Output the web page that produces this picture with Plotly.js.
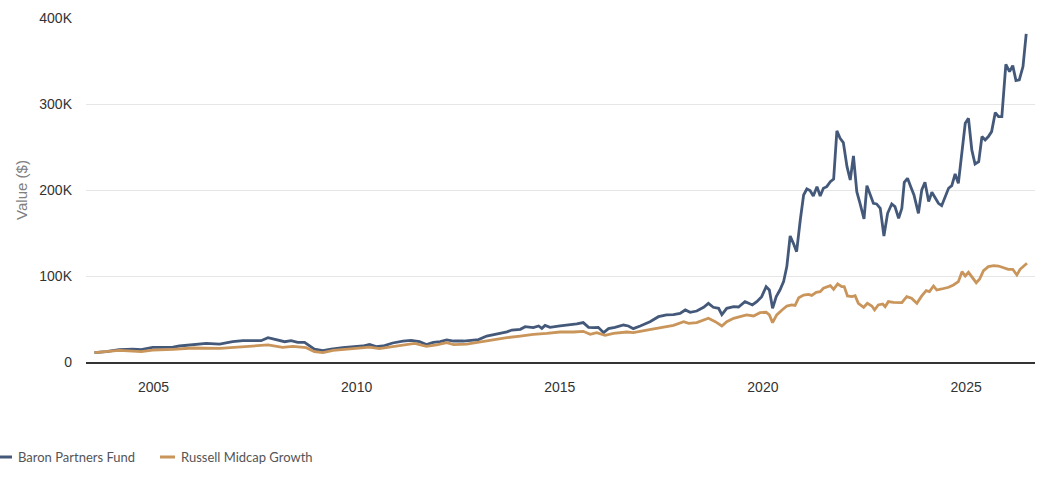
<!DOCTYPE html>
<html>
<head>
<meta charset="utf-8">
<script src="https://cdn.plot.ly/plotly-3.0.1.min.js"></script>
<style>html,body{margin:0;padding:0;background:#fff;}#chart{width:1043px;height:483px;}</style>
</head>
<body>
<div id="chart"></div>
<script>
// Series names
const fundName = "Baron Partners Fund";
const indexName = "Russell Midcap Growth";

// Baron Partners Fund: time (decimal years) and value (thousands of $)
const fundYears = [2003.55,2003.84,2004.16,2004.49,2004.70,2004.98,2005.23,2005.48,2005.64,2005.97,2006.30,2006.63,2006.95,2007.20,2007.45,2007.65,2007.82,2008.02,2008.23,2008.39,2008.55,2008.72,2008.84,2008.96,2009.17,2009.37,2009.66,2009.91,2010.15,2010.32,2010.48,2010.65,2010.89,2011.14,2011.34,2011.55,2011.72,2011.89,2012.06,2012.22,2012.39,2012.63,2012.88,2013.00,2013.20,2013.41,2013.57,2013.70,2013.82,2014.03,2014.15,2014.35,2014.48,2014.56,2014.64,2014.76,2015.01,2015.17,2015.42,2015.58,2015.71,2015.83,2015.95,2016.08,2016.20,2016.36,2016.57,2016.69,2016.81,2016.98,2017.22,2017.43,2017.63,2017.80,2017.96,2018.09,2018.21,2018.37,2018.54,2018.66,2018.78,2018.91,2018.99,2019.11,2019.28,2019.40,2019.56,2019.65,2019.74,2019.85,2019.97,2020.08,2020.16,2020.24,2020.33,2020.42,2020.51,2020.59,2020.67,2020.75,2020.83,2020.92,2021.00,2021.08,2021.16,2021.24,2021.33,2021.41,2021.49,2021.57,2021.66,2021.74,2021.82,2021.90,2021.98,2022.07,2022.15,2022.23,2022.31,2022.39,2022.49,2022.56,2022.64,2022.72,2022.80,2022.89,2022.98,2023.07,2023.17,2023.25,2023.34,2023.42,2023.48,2023.56,2023.64,2023.72,2023.83,2023.91,2023.99,2024.08,2024.16,2024.24,2024.32,2024.40,2024.49,2024.57,2024.65,2024.73,2024.81,2024.90,2024.98,2025.06,2025.14,2025.22,2025.31,2025.39,2025.47,2025.55,2025.63,2025.72,2025.80,2025.88,2025.98,2026.07,2026.15,2026.23,2026.31,2026.40,2026.48];
const fundValues = [10.9,12.0,14.3,15.0,14.3,17.0,17.0,17.2,18.6,20.1,21.7,20.9,23.6,24.8,25.2,24.8,28.3,26.0,23.6,24.8,22.9,22.9,19.0,15.0,13.2,15.0,16.7,17.4,18.6,20.5,17.8,18.6,22.1,24.4,25.2,23.6,20.3,22.9,23.6,25.6,24.4,24.4,25.6,26.0,30.2,32.2,33.3,35.0,37.2,38.0,41.1,39.9,41.9,39.1,42.6,40.3,41.9,42.6,44.2,45.8,40.3,39.9,40.3,34.1,38.8,40.3,43.0,41.9,38.8,41.9,46.9,52.7,54.7,55.0,56.6,60.5,57.8,59.3,63.6,68.2,63.6,62.4,55.0,62.4,64.4,64.0,70.2,68.2,66.3,70.2,76.0,87.6,83.7,62.4,76.0,83.7,93.4,110.9,146.5,138.0,128.3,165.1,194.2,201.2,199.3,193.1,203.9,193.1,202.0,203.9,209.7,212.8,268.7,260.1,255.1,227.2,211.7,239.6,198.1,184.5,166.3,205.1,194.2,184.5,183.8,178.7,146.5,172.9,183.8,180.6,167.1,178.7,208.9,213.6,203.9,194.2,172.9,200.0,208.9,186.5,197.3,190.3,184.5,181.8,192.3,202.0,205.1,218.6,207.8,242.7,277.6,283.4,246.6,230.3,233.0,262.1,258.2,262.1,267.9,290.0,285.3,285.3,346.2,337.7,344.6,327.2,328.0,343.5,381.5];

// Russell Midcap Growth: time (decimal years) and value (thousands of $)
const indexYears = [2003.55,2004.16,2004.70,2004.98,2005.48,2005.97,2006.63,2006.95,2007.45,2007.82,2008.18,2008.43,2008.76,2008.96,2009.17,2009.42,2009.91,2010.32,2010.56,2010.89,2011.22,2011.43,2011.72,2011.97,2012.22,2012.39,2012.71,2013.00,2013.37,2013.70,2014.03,2014.35,2014.68,2015.01,2015.34,2015.58,2015.75,2015.91,2016.12,2016.32,2016.65,2016.81,2017.14,2017.47,2017.80,2018.05,2018.17,2018.37,2018.66,2018.83,2018.99,2019.11,2019.28,2019.44,2019.60,2019.77,2019.93,2020.08,2020.16,2020.24,2020.34,2020.47,2020.59,2020.71,2020.79,2020.88,2021.00,2021.12,2021.20,2021.31,2021.41,2021.49,2021.57,2021.66,2021.74,2021.84,2021.94,2022.00,2022.08,2022.19,2022.27,2022.35,2022.48,2022.57,2022.68,2022.75,2022.84,2022.95,2023.01,2023.09,2023.21,2023.34,2023.42,2023.54,2023.66,2023.79,2023.91,2024.02,2024.10,2024.20,2024.28,2024.40,2024.57,2024.69,2024.81,2024.90,2024.98,2025.06,2025.14,2025.25,2025.33,2025.43,2025.55,2025.68,2025.80,2025.92,2026.04,2026.15,2026.25,2026.33,2026.41,2026.50];
const indexValues = [10.9,13.6,12.0,13.9,14.7,16.3,15.9,17.0,18.6,19.8,17.0,18.2,16.7,12.0,10.9,13.6,15.5,17.4,15.5,17.8,20.9,21.7,18.2,19.8,22.5,20.2,20.9,23.3,26.4,28.3,30.2,32.2,33.3,34.9,34.9,35.7,32.2,34.1,31.0,33.3,34.9,34.1,37.2,39.5,42.6,46.9,45.0,45.8,50.8,46.9,41.9,46.9,50.8,52.7,54.7,53.5,57.4,57.8,54.7,45.8,54.7,60.5,65.1,66.3,65.7,74.8,77.9,78.7,77.5,81.1,81.8,85.7,86.9,88.8,84.5,90.7,87.6,87.6,76.8,76.0,77.1,68.2,63.6,68.2,65.1,60.5,66.3,67.5,64.4,70.2,69.4,69.0,69.0,76.0,74.1,68.2,76.8,82.9,81.8,88.4,83.7,84.9,86.9,89.6,93.4,105.0,100.0,104.3,98.5,92.2,96.2,106.2,110.9,112.0,111.6,109.7,107.8,107.8,101.2,107.8,111.6,114.8];

// Axis ticks
const yTickValues = [0, 100, 200, 300, 400];
const yTickLabels = ["0", "100K", "200K", "300K", "400K"];
const xTickYears = ["2005", "2010", "2015", "2020", "2025"];

// decimal year -> ISO date string (format conversion for the date axis)
function toDate(d) {
  const y = Math.floor(d);
  const a = Date.UTC(y, 0, 1), b = Date.UTC(y + 1, 0, 1);
  return new Date(a + (d - y) * (b - a)).toISOString().slice(0, 10);
}

const fundColor = "#44597a";
const indexColor = "#c9955a";

const traces = [
  {x: fundYears.map(toDate), y: fundValues, type: "scatter", mode: "lines", name: fundName,
   line: {color: fundColor, width: 2.8}, showlegend: false},
  {x: indexYears.map(toDate), y: indexValues, type: "scatter", mode: "lines", name: indexName,
   line: {color: indexColor, width: 2.8}, showlegend: false}
];

const W = 949, H = 344, L = 86, T = 18;
const px = v => (v - L) / W;        // pixel -> paper x
const py = v => (T + H - v) / H;    // pixel -> paper y

const layout = {
  width: 1043, height: 483,
  margin: {l: L, r: 8, t: T, b: 121},
  paper_bgcolor: "#fff", plot_bgcolor: "#fff",
  font: {family: "Liberation Sans, Arial, sans-serif", color: "#333"},
  xaxis: {
    type: "date",
    range: ["2003-05-05", "2026-09-12"],
    tickvals: xTickYears.map(y => y + "-01-01"),
    ticktext: xTickYears,
    showgrid: false, zeroline: false,
    showline: true, linecolor: "#333", linewidth: 1.5,
    ticks: "", tickfont: {size: 14, color: "#333"},
    ticklabelstandoff: 12
  },
  yaxis: {
    range: [0, 400],
    tickvals: yTickValues, ticktext: yTickLabels,
    showgrid: true, gridcolor: "#e6e6e6", gridwidth: 1,
    zeroline: false, showline: false, ticks: "",
    tickfont: {size: 14, color: "#333"},
    ticklabelstandoff: 13,
    title: {text: "Value ($)", font: {size: 15, color: "#808080"}, standoff: 8}
  },
  shapes: [
    {type: "line", xref: "paper", yref: "paper", x0: px(0), x1: px(12), y0: py(457), y1: py(457),
     line: {color: fundColor, width: 3}},
    {type: "line", xref: "paper", yref: "paper", x0: px(160), x1: px(175), y0: py(457), y1: py(457),
     line: {color: indexColor, width: 3}}
  ],
  annotations: [
    {text: fundName, xref: "paper", yref: "paper", x: px(16), y: py(457), xanchor: "left", yanchor: "middle",
     showarrow: false, font: {family: "Lato, Open Sans, sans-serif", size: 13, color: "#555"}},
    {text: indexName, xref: "paper", yref: "paper", x: px(179), y: py(457), xanchor: "left", yanchor: "middle",
     showarrow: false, font: {family: "Lato, Open Sans, sans-serif", size: 13, color: "#555"}}
  ],
  showlegend: false
};

Plotly.newPlot("chart", traces, layout, {displayModeBar: false, staticPlot: true});
</script>
</body>
</html>
